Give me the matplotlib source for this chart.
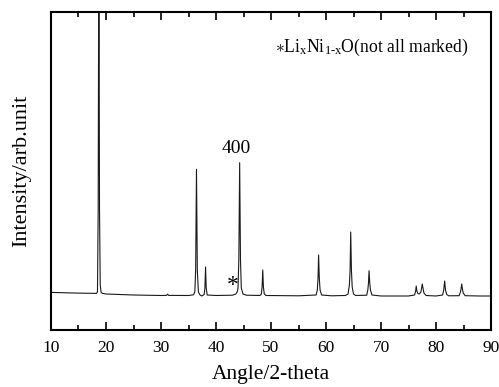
import numpy as np
import matplotlib
matplotlib.use("Agg")
import matplotlib.pyplot as plt

# XRD pattern (2-theta in degrees, intensity in arb. units)
angle = [
    10, 12, 14, 16, 18.3, 18.45, 18.58, 18.7, 18.82, 18.95, 19.1, 19.3,
    20, 25, 30, 31.0, 31.2, 31.4, 35,
    35.9, 36.15, 36.3, 36.45, 36.6, 36.8, 37.1, 37.4,
    37.85, 37.98, 38.1, 38.22, 38.4,
    40, 43.0, 43.6, 43.85, 44.0, 44.15, 44.3, 44.45, 44.6, 44.9, 45.5,
    48.0, 48.25, 48.38, 48.5, 48.62, 48.78, 49.1,
    55, 58.2, 58.42, 58.55, 58.65, 58.78, 58.92, 59.2, 61,
    63.5, 64.0, 64.25, 64.38, 64.49, 64.62, 64.76, 65.0, 65.4,
    67.4, 67.6, 67.72, 67.83, 67.95, 68.08, 68.35, 70,
    75, 76.1, 76.3, 76.4, 76.52, 76.7, 76.95, 77.25, 77.38, 77.5, 77.63, 77.8, 78.2,
    80, 81.2, 81.4, 81.57, 81.72, 81.95, 82.3,
    84.2, 84.45, 84.55, 84.67, 84.8, 84.95, 85.3, 88, 90,
]
intensity = [
    37.6, 37.3, 37.0, 36.8, 36.6, 38.5, 120, 420, 120, 45, 38, 36.7,
    36.0, 35.0, 34.5, 34.6, 35.8, 34.6, 34.5,
    35.2, 38, 60, 160.7, 60, 38, 35, 34,
    35.5, 42, 63, 42, 35,
    34.5, 34.8, 36, 38, 42, 70, 167.3, 70, 42, 36, 34.8,
    34.5, 36, 43, 60, 43, 36, 34.5,
    34.2, 35, 40, 52, 75, 52, 40, 35, 34.2,
    34.5, 36, 45, 60, 98, 60, 43, 36, 34.5,
    34.8, 40, 47, 59.3, 47, 40, 35, 34,
    34, 35, 39, 44, 39, 36.5, 36, 38, 42, 46, 42, 37, 34.5,
    34, 35, 40, 49, 40, 35.5, 34.2,
    34.3, 38, 41, 46, 41, 37, 34.3, 34, 34,
]

xticks = [10, 20, 30, 40, 50, 60, 70, 80, 90]

plt.rcParams["font.family"] = ["Liberation Serif", "DejaVu Serif"]
plt.rcParams["mathtext.fontset"] = "custom"
plt.rcParams["mathtext.rm"] = "Liberation Serif"
plt.rcParams["mathtext.it"] = "Liberation Serif:italic"

fig = plt.figure(figsize=(4.99, 3.87), dpi=100)
ax = fig.add_axes([0.1022, 0.1473, 0.8818, 0.8217])

ax.plot(angle, intensity, color="#1a1a1a", lw=0.8)

ax.set_xlim(10, 90)
ax.set_ylim(0, 318)
ax.set_xticks(xticks)
ax.set_xticks(np.arange(15, 90, 10), minor=True)
ax.set_yticks([])
ax.tick_params(axis="x", which="both", direction="in", top=True,
               labelsize=12.5, pad=7, width=1.2)
ax.tick_params(axis="x", which="major", length=5.5)
ax.tick_params(axis="x", which="minor", length=3.5)
for s in ax.spines.values():
    s.set_linewidth(1.5)

ax.set_xlabel("Angle/2-theta", fontsize=15.5, labelpad=7)
ax.set_ylabel("Intensity/arb.unit", fontsize=16, labelpad=14)

ax.text(43.7, 181, "400", fontsize=14, ha="center", va="center")
ax.text(43.0, 44, "*", fontsize=17, ha="center", va="center")
ax.text(0.948, 0.89,
        r"$\ast$Li$_{\mathrm{x}}$Ni$_{\mathrm{1\text{-}x}}$O(not all marked)",
        transform=ax.transAxes, fontsize=12.7, ha="right", va="center")

fig.savefig("out.png", dpi=100)
